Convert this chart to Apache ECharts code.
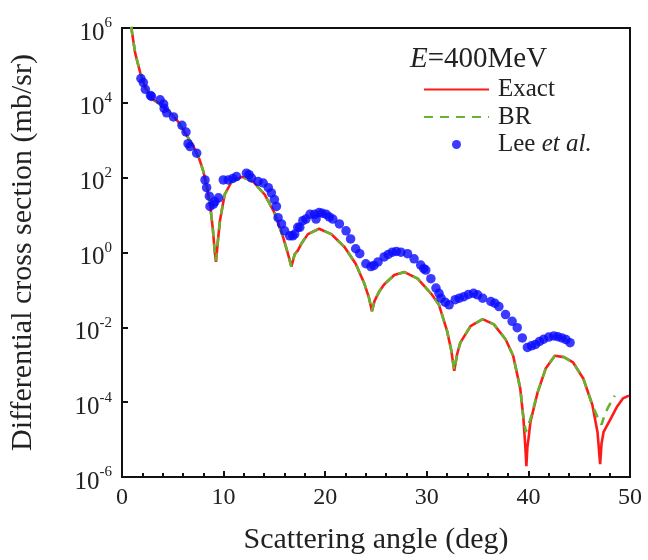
<!DOCTYPE html>
<html>
<head>
<meta charset="utf-8">
<script src="https://cdn.jsdelivr.net/npm/echarts@6/dist/echarts.min.js"></script>
<style>html,body{margin:0;padding:0;background:#fff}#c{width:648px;height:560px}</style>
</head>
<body>
<div id="c"></div>
<script>
// Exact calculation (red solid): [angle deg, dσ/dΩ mb/sr]
const exactX = [0.9,1.3,1.8,2.3,3.0,3.8,4.7,5.5,6.2,7.0,7.6,8.0,8.4,8.7,8.95,9.1,9.25,9.4,9.64,10.1,10.8,11.8,12.9,14.05,15.0,15.85,16.3,16.67,17.0,17.3,17.7,18.3,19.4,20.6,21.9,23.0,23.85,24.3,24.6,24.85,25.3,25.8,26.8,27.8,29.1,30.4,31.2,32.0,32.4,32.7,33.0,33.3,34.3,35.5,36.6,37.75,38.5,39.2,39.5,39.7,39.8,39.9,40.0,40.2,40.9,41.7,42.6,43.5,44.4,45.4,46.3,46.8,47.06,47.2,47.4,48.0,48.7,49.3,49.9];
const exactY = [1.1e6,2.1e5,6.3e4,2.5e4,1.26e4,8.9e3,5.6e3,3.2e3,1.6e3,7.1e2,3.2e2,1.5e2,50,16,4,1.26,0.56,1.6,7.1,35,79,105,79,35,11.7,2.6,1.0,0.42,0.9,1.12,1.8,3.1,4.3,3.1,1.4,0.5,0.148,0.063,0.027,0.05,0.089,0.14,0.25,0.3,0.2,0.081,0.04,7.9e-3,2.5e-3,6.9e-4,2.0e-3,3.9e-3,1.07e-2,1.66e-2,1.2e-2,4.8e-3,1.74e-3,2.3e-4,4.0e-5,6.3e-6,1.95e-6,6.3e-6,1.0e-5,2.95e-5,1.8e-4,7.9e-4,1.74e-3,1.6e-3,1.15e-3,4.3e-4,8.3e-5,1.6e-5,2.2e-6,7.9e-6,1.6e-5,3.2e-5,7.4e-5,1.26e-4,1.5e-4];

// BR approximation (green dashed)
const brX = [0.9,1.3,1.8,2.3,3.0,3.8,4.7,5.5,6.2,7.0,7.6,8.0,8.4,8.7,8.95,9.1,9.25,9.4,9.64,10.1,10.8,11.8,12.9,14.05,15.0,15.85,16.3,16.67,17.0,17.3,17.7,18.3,19.4,20.6,21.9,23.0,23.85,24.3,24.6,24.85,25.3,25.8,26.8,27.8,29.1,30.4,31.2,32.0,32.4,32.7,33.0,33.3,34.3,35.5,36.6,37.75,38.5,39.2,39.5,39.75,40.0,40.2,40.9,41.7,42.6,43.5,44.4,45.4,46.3,46.8,47.2,47.5,47.8,48.5];
const brY = [1.1e6,2.1e5,6.3e4,2.5e4,1.26e4,8.9e3,5.6e3,3.2e3,1.6e3,7.1e2,3.2e2,1.5e2,50,16,4,1.26,0.6,1.6,7.1,35,79,105,79,35,11.7,2.6,1.0,0.42,0.9,1.12,1.8,3.1,4.3,3.1,1.4,0.5,0.148,0.063,0.027,0.05,0.089,0.14,0.25,0.3,0.2,0.081,0.04,7.9e-3,2.5e-3,7.2e-4,2.0e-3,3.9e-3,1.07e-2,1.66e-2,1.2e-2,4.8e-3,1.74e-3,2.3e-4,4.0e-5,1.6e-5,2.5e-5,3.5e-5,1.8e-4,7.9e-4,1.74e-3,1.6e-3,1.15e-3,4.3e-4,8.3e-5,4.0e-5,2.5e-5,4.5e-5,6.9e-5,1.5e-4];

// Lee et al. experimental data (blue dots)
const leeX = [1.86,2.1,2.3,2.8,2.9,3.75,4.1,4.15,4.4,5.07,5.9,6.3,6.5,6.7,7.35,8.17,8.33,8.6,8.66,9.0,9.15,9.5,9.97,10.46,10.9,11.27,12.25,12.5,12.75,13.4,13.9,14.4,14.7,15.0,15.2,15.36,15.7,16.0,16.5,16.8,17.0,17.3,17.5,17.8,18.1,18.5,18.95,19.1,19.4,19.7,20.1,20.4,20.75,21.4,22.05,22.5,23.0,23.4,24.0,24.5,24.8,25.2,25.8,26.2,26.6,27.0,27.45,28.1,28.75,29.4,29.7,29.9,30.4,30.9,31.2,31.4,31.8,32.2,32.8,33.2,33.65,34.1,34.6,35.0,35.5,36.3,36.7,37.1,37.75,38.4,38.9,39.4,39.9,40.3,40.7,41.1,41.5,42.0,42.5,42.9,43.3,43.7,44.1];
const leeY = [4.47e4,3.47e4,2.29e4,1.58e4,1.48e4,1.2e4,9.3e3,7.1e3,5.4e3,4.2e3,2.5e3,1.66e3,8.1e2,6.8e2,4.5e2,87,54,32,17,19.5,23,29,87,87,95,107,132,120,98,79,72,54,39,26,17,8.5,5.8,3.8,2.8,2.8,3.1,4.7,4.7,7.1,7.8,10.5,10.5,7.8,11.7,11.2,10.5,8.9,7.8,5.8,3.8,2.3,1.26,0.93,0.5,0.42,0.45,0.56,0.76,0.89,1.02,1.07,1.02,0.93,0.68,0.46,0.37,0.34,0.2,0.112,0.081,0.06,0.047,0.04,0.055,0.06,0.066,0.076,0.081,0.074,0.06,0.049,0.044,0.036,0.022,0.0145,0.0098,0.0052,0.0029,0.0032,0.0035,0.0042,0.0048,0.0055,0.0059,0.0056,0.0052,0.0047,0.0039];

const xTicks = [0,10,20,30,40,50];
const yExponents = [-6,-4,-2,0,2,4,6];

const zip = (xs, ys) => xs.map((x, i) => [x, ys[i]]);
const FONT = '"Liberation Serif", "DejaVu Serif", serif';
const TXT = '#222';

const chart = echarts.init(document.getElementById('c'), null, {renderer: 'canvas'});
chart.setOption({
  animation: false,
  backgroundColor: '#fff',
  grid: {left: 120, top: 28, right: 18, bottom: 77, show: true, borderColor: '#111', borderWidth: 2, backgroundColor: 'transparent'},
  xAxis: {
    type: 'value', min: xTicks[0], max: xTicks[xTicks.length - 1], interval: 10,
    name: 'Scattering angle (deg)', nameLocation: 'middle', nameGap: 48,
    nameTextStyle: {fontFamily: FONT, fontSize: 30, color: TXT},
    axisLine: {lineStyle: {color: '#111', width: 2}},
    axisTick: {inside: true, length: 6, lineStyle: {color: '#111', width: 2}},
    minorTick: {show: true, splitNumber: 5, length: 4, lineStyle: {color: '#111', width: 2}},
    axisLabel: {fontFamily: FONT, fontSize: 24, color: TXT, margin: 9},
    splitLine: {show: false}
  },
  yAxis: {
    type: 'log', logBase: 10, min: Math.pow(10, yExponents[0]), max: Math.pow(10, yExponents[yExponents.length - 1]), interval: 2,
    name: 'Differential cross section (mb/sr)', nameLocation: 'middle', nameGap: 84,
    nameTextStyle: {fontFamily: FONT, fontSize: 30, color: TXT},
    axisLine: {lineStyle: {color: '#111', width: 2}},
    axisTick: {inside: true, length: 6, lineStyle: {color: '#111', width: 2}},
    axisLabel: {
      margin: 10,
      formatter: v => '{b|10}{e|' + Math.round(Math.log10(v)) + '}',
      rich: {
        b: {fontFamily: FONT, fontSize: 25, color: TXT, padding: [10, 0, 0, 0]},
        e: {fontFamily: FONT, fontSize: 15, color: TXT, padding: [0, 0, 9, 0]}
      }
    },
    splitLine: {show: false}
  },
  legend: {
    orient: 'vertical', left: 423, top: 77, padding: 0, itemWidth: 65, itemHeight: 9, itemGap: 2.5,
    selectedMode: false,
    textStyle: {fontFamily: FONT, fontSize: 25, color: TXT, padding: [0, 0, 0, 4],
      rich: {i: {fontFamily: FONT, fontSize: 25, fontStyle: 'italic', color: TXT}}},
    formatter: n => n === 'Lee et al.' ? 'Lee {i|et al.}' : n,
    data: [
      {name: 'Exact', itemStyle: {color: 'rgba(0,0,0,0)', borderWidth: 0}},
      {name: 'BR', itemStyle: {color: 'rgba(0,0,0,0)', borderWidth: 0}},
      {name: 'Lee et al.'}
    ]
  },
  graphic: [{
    type: 'text', left: 410, top: 45,
    style: {text: '{i|E}=400MeV', rich: {i: {fontFamily: FONT, fontSize: 29, fontStyle: 'italic', fill: TXT}},
      font: '29px "Liberation Serif", serif', fill: TXT}
  }],
  series: [
    {name: 'Exact', type: 'line', data: zip(exactX, exactY), showSymbol: false, symbol: 'none',
      lineStyle: {color: '#ff1a1a', width: 2.6}, itemStyle: {color: '#ff1a1a'}, clip: true, z: 2},
    {name: 'BR', type: 'line', data: zip(brX, brY), showSymbol: false, symbol: 'none',
      lineStyle: {color: '#66b32e', width: 2.6, type: [9, 7]}, itemStyle: {color: '#66b32e'}, clip: true, z: 3},
    {name: 'Lee et al.', type: 'scatter', data: zip(leeX, leeY), symbol: 'circle', symbolSize: 9.5,
      itemStyle: {color: '#0a0aff'}, clip: true, z: 4}
  ]
});
</script>
</body>
</html>
